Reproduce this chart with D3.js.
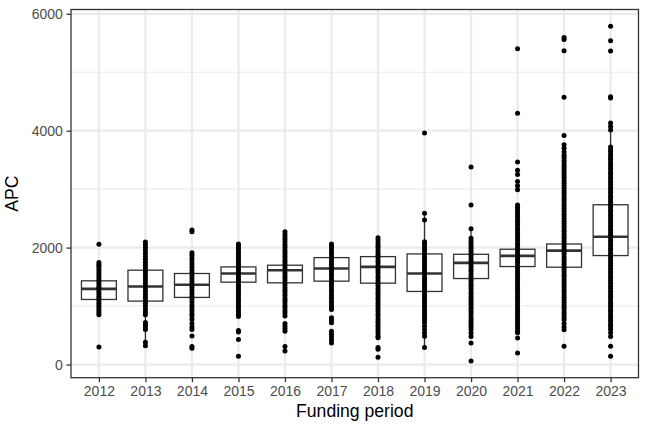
<!DOCTYPE html>
<html>
<head>
<meta charset="utf-8">
<script src="https://cdn.jsdelivr.net/npm/d3@7"></script>
<style>
  body { margin: 0; background: #fff; }
  text { font-family: "Liberation Sans", Arial, sans-serif; }
</style>
</head>
<body>
<div id="chart"></div>
<script>
var width = 648;
var height = 432;
var margin = {top: 9.5, right: 9.5, bottom: 54.3, left: 71};

// funding periods
var years = ["2012", "2013", "2014", "2015", "2016", "2017", "2018", "2019", "2020", "2021", "2022", "2023"];

// box stats
var q1     = [1113, 1085, 1148, 1409, 1398, 1426, 1392, 1250, 1471, 1676, 1665, 1864];
var median = [1295, 1335, 1364, 1557, 1614, 1642, 1670, 1557, 1739, 1858, 1949, 2187];
var q3     = [1432, 1614, 1557, 1670, 1699, 1829, 1846, 1892, 1886, 1972, 2062, 2733];

// APC values per period (points)
var apc2012 = [2057, 1745, 1710, 1680, 1640, 1600, 1560, 1520, 1480, 1440, 1400, 1360, 1320, 1290, 1250, 1210, 1170, 1130, 1090, 1050, 1010, 970, 930, 890, 852, 302];
var apc2013 = [2096, 2050, 2000, 1950, 1900, 1850, 1800, 1750, 1700, 1650, 1600, 1550, 1500, 1450, 1400, 1350, 1300, 1250, 1200, 1150, 1100, 1050, 1000, 950, 900, 850, 720, 680, 640, 600, 380, 320];
var apc2014 = [2300, 2270, 1914, 1870, 1820, 1770, 1720, 1670, 1620, 1570, 1520, 1470, 1420, 1370, 1320, 1270, 1220, 1170, 1120, 1070, 1020, 970, 920, 870, 830, 770, 700, 640, 600, 490, 310, 280];
var apc2015 = [2062, 2020, 1980, 1940, 1900, 1860, 1820, 1780, 1740, 1700, 1660, 1620, 1580, 1540, 1500, 1460, 1420, 1380, 1340, 1300, 1260, 1220, 1180, 1140, 1100, 1060, 1020, 980, 940, 900, 860, 820, 580, 555, 430, 142];
var apc2016 = [2272, 2225, 2180, 2140, 2095, 2050, 2010, 1965, 1920, 1880, 1835, 1790, 1750, 1705, 1660, 1620, 1575, 1530, 1490, 1445, 1400, 1360, 1315, 1270, 1230, 1185, 1140, 1100, 1055, 1010, 970, 925, 880, 830, 700, 655, 610, 570, 310, 230];
var apc2017 = [2062, 2020, 1975, 1930, 1890, 1845, 1800, 1760, 1715, 1670, 1630, 1585, 1540, 1500, 1455, 1410, 1370, 1325, 1280, 1240, 1195, 1150, 1110, 1065, 1020, 980, 940, 800, 760, 716, 568, 520, 470, 420, 370];
var apc2018 = [2170, 2130, 2085, 2040, 2000, 1955, 1910, 1870, 1825, 1780, 1740, 1695, 1650, 1610, 1565, 1520, 1480, 1435, 1390, 1350, 1305, 1260, 1220, 1175, 1130, 1090, 1045, 1000, 960, 915, 870, 830, 785, 740, 700, 655, 610, 570, 525, 480, 460, 290, 260, 125];
var apc2019 = [3960, 2586, 2471, 2102, 2060, 2015, 1970, 1930, 1885, 1840, 1800, 1755, 1710, 1670, 1625, 1580, 1540, 1495, 1450, 1410, 1365, 1320, 1280, 1235, 1190, 1150, 1105, 1060, 1020, 975, 930, 890, 845, 800, 760, 716, 653, 600, 540, 483, 290];
var apc2020 = [3380, 2727, 2323, 2159, 2115, 2070, 2025, 1985, 1940, 1895, 1855, 1810, 1765, 1725, 1680, 1635, 1595, 1550, 1505, 1465, 1420, 1375, 1335, 1290, 1245, 1205, 1160, 1115, 1075, 1030, 985, 945, 900, 852, 800, 760, 720, 680, 640, 600, 540, 480, 370, 61];
var apc2021 = [5403, 4300, 3466, 3324, 3250, 3130, 3060, 2990, 2727, 2690, 2645, 2600, 2560, 2515, 2470, 2430, 2385, 2340, 2300, 2255, 2210, 2170, 2125, 2080, 2040, 1995, 1950, 1910, 1865, 1820, 1780, 1735, 1690, 1650, 1605, 1560, 1520, 1475, 1430, 1390, 1345, 1300, 1260, 1215, 1170, 1130, 1085, 1040, 1000, 955, 910, 870, 825, 780, 740, 695, 650, 610, 565, 545, 455, 199];
var apc2022 = [5596, 5560, 5369, 4573, 3920, 3760, 3700, 3636, 3580, 3540, 3494, 3450, 3405, 3360, 3320, 3275, 3230, 3190, 3145, 3100, 3060, 3015, 2970, 2930, 2885, 2840, 2800, 2755, 2710, 2670, 2625, 2580, 2540, 2495, 2450, 2410, 2365, 2320, 2280, 2235, 2190, 2150, 2105, 2060, 2020, 1975, 1930, 1890, 1845, 1800, 1760, 1715, 1670, 1630, 1585, 1540, 1500, 1455, 1410, 1370, 1325, 1280, 1240, 1195, 1150, 1110, 1065, 1020, 980, 935, 890, 850, 805, 767, 700, 640, 597, 312];
var apc2023 = [5787, 5540, 5364, 4580, 4560, 4130, 4070, 4010, 3721, 3680, 3640, 3595, 3550, 3510, 3465, 3420, 3380, 3335, 3290, 3250, 3205, 3160, 3120, 3075, 3030, 2990, 2945, 2900, 2860, 2815, 2770, 2730, 2685, 2640, 2600, 2555, 2510, 2470, 2425, 2380, 2340, 2295, 2250, 2210, 2165, 2120, 2080, 2035, 1990, 1950, 1905, 1860, 1820, 1775, 1730, 1690, 1645, 1600, 1560, 1515, 1470, 1430, 1385, 1340, 1300, 1255, 1210, 1170, 1125, 1080, 1040, 995, 950, 910, 865, 820, 780, 735, 690, 650, 605, 545, 480, 312, 142];

var apcByYear = [apc2012, apc2013, apc2014, apc2015, apc2016, apc2017, apc2018, apc2019, apc2020, apc2021, apc2022, apc2023];

var yTicks = [0, 2000, 4000, 6000];
var yMinor = [1000, 3000, 5000];

var innerW = width - margin.left - margin.right;
var innerH = height - margin.top - margin.bottom;

var svg = d3.select("#chart")
  .append("svg")
  .attr("width", width)
  .attr("height", height);

var g = svg.append("g")
  .attr("transform", "translate(" + margin.left + "," + margin.top + ")");

// scales (ggplot style: 5% expansion on continuous, 0.6 on discrete)
var all = d3.merge(apcByYear);
var ext = d3.extent(all);
var pad = (ext[1] - ext[0]) * 0.05;

var x = d3.scalePoint().domain(years).range([0, innerW]).padding(0.6);
var y = d3.scaleLinear().domain([ext[0] - pad, ext[1] + pad]).range([innerH, 0]);
var boxW = x.step() * 0.75;

// grid
g.selectAll(".minor")
  .data(yMinor).enter()
  .append("line")
  .attr("x1", 0).attr("x2", innerW)
  .attr("y1", function(d) { return y(d); })
  .attr("y2", function(d) { return y(d); })
  .attr("stroke", "#ebebeb")
  .attr("stroke-width", 1.1);

g.selectAll(".major-y")
  .data(yTicks).enter()
  .append("line")
  .attr("x1", 0).attr("x2", innerW)
  .attr("y1", function(d) { return y(d); })
  .attr("y2", function(d) { return y(d); })
  .attr("stroke", "#ebebeb")
  .attr("stroke-width", 2.2);

g.selectAll(".major-x")
  .data(years).enter()
  .append("line")
  .attr("y1", 0).attr("y2", innerH)
  .attr("x1", function(d) { return x(d); })
  .attr("x2", function(d) { return x(d); })
  .attr("stroke", "#ebebeb")
  .attr("stroke-width", 2.2);

// box stats with whiskers at the furthest point inside 1.5 IQR
var stats = years.map(function(yr, i) {
  var iqr = q3[i] - q1[i];
  var vals = apcByYear[i];
  var hi = d3.max(vals.filter(function(v) { return v <= q3[i] + 1.5 * iqr; }));
  var lo = d3.min(vals.filter(function(v) { return v >= q1[i] - 1.5 * iqr; }));
  return {year: yr, q1: q1[i], med: median[i], q3: q3[i], lo: lo, hi: hi};
});

var boxes = g.selectAll(".box")
  .data(stats).enter()
  .append("g")
  .attr("class", "box");

boxes.append("line")
  .attr("x1", function(d) { return x(d.year); })
  .attr("x2", function(d) { return x(d.year); })
  .attr("y1", function(d) { return y(d.q3); })
  .attr("y2", function(d) { return y(d.hi); })
  .attr("stroke", "#333")
  .attr("stroke-width", 1.3);

boxes.append("line")
  .attr("x1", function(d) { return x(d.year); })
  .attr("x2", function(d) { return x(d.year); })
  .attr("y1", function(d) { return y(d.q1); })
  .attr("y2", function(d) { return y(d.lo); })
  .attr("stroke", "#333")
  .attr("stroke-width", 1.3);

boxes.append("rect")
  .attr("x", function(d) { return x(d.year) - boxW / 2; })
  .attr("width", boxW)
  .attr("y", function(d) { return y(d.q3); })
  .attr("height", function(d) { return y(d.q1) - y(d.q3); })
  .attr("fill", "#fff")
  .attr("stroke", "#333")
  .attr("stroke-width", 1.3);

boxes.append("line")
  .attr("x1", function(d) { return x(d.year) - boxW / 2; })
  .attr("x2", function(d) { return x(d.year) + boxW / 2; })
  .attr("y1", function(d) { return y(d.med); })
  .attr("y2", function(d) { return y(d.med); })
  .attr("stroke", "#333")
  .attr("stroke-width", 2.6);

// points
var pts = [];
years.forEach(function(yr, i) {
  apcByYear[i].forEach(function(v) { pts.push({year: yr, apc: v}); });
});

g.selectAll(".pt")
  .data(pts).enter()
  .append("circle")
  .attr("cx", function(d) { return x(d.year); })
  .attr("cy", function(d) { return y(d.apc); })
  .attr("r", 2.5)
  .attr("fill", "#000");

// panel border
g.append("rect")
  .attr("width", innerW)
  .attr("height", innerH)
  .attr("fill", "none")
  .attr("stroke", "#333")
  .attr("stroke-width", 1.3);

// axes
var yAxis = g.append("g")
  .call(d3.axisLeft(y).tickValues(yTicks).tickSize(4.5).tickPadding(3.6).tickFormat(d3.format("d")));
var xAxis = g.append("g")
  .attr("transform", "translate(0," + innerH + ")")
  .call(d3.axisBottom(x).tickSize(4.5).tickPadding(4));

[yAxis, xAxis].forEach(function(ax) {
  ax.select(".domain").remove();
  ax.selectAll(".tick line").attr("stroke", "#333").attr("stroke-width", 1.3);
  ax.selectAll(".tick text")
    .attr("fill", "#4d4d4d")
    .style("font-size", "14px")
    .style("font-family", "'Liberation Sans', Arial, sans-serif");
});

// titles
svg.append("text")
  .attr("x", margin.left + innerW / 2)
  .attr("y", 416.5)
  .attr("text-anchor", "middle")
  .style("font-size", "17.6px")
  .text("Funding period");

svg.append("text")
  .attr("transform", "translate(17.5," + (margin.top + innerH / 2) + ") rotate(-90)")
  .attr("text-anchor", "middle")
  .style("font-size", "17.6px")
  .text("APC");
</script>
</body>
</html>
